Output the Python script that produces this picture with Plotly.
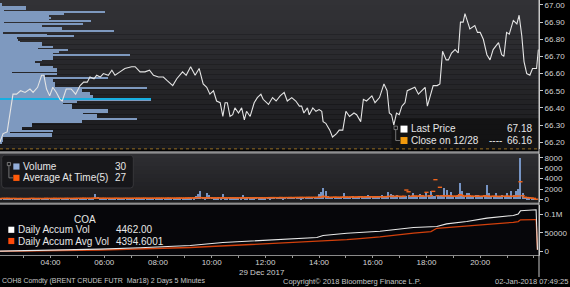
import plotly.graph_objects as go
import pandas as pd

DAY = "2017-12-29 "

# ---------------- data ----------------
price_time = [
    "02:07", "02:14", "02:23", "02:29", "02:36", "02:44", "02:53", "03:03", "03:14", "03:21",
    "03:31", "03:40", "03:45", "03:51", "03:58", "04:05", "04:13", "04:21", "04:26", "04:35",
    "04:46", "04:56", "05:06", "05:14", "05:22", "05:28", "05:37", "05:43", "05:51", "05:58",
    "06:09", "06:17", "06:24", "06:35", "06:46", "07:01", "07:09", "07:20", "07:31", "07:41",
    "07:50", "08:01", "08:12", "08:20", "08:33", "08:42", "08:55", "09:03", "09:13", "09:23",
    "09:32", "09:41", "09:49", "09:56", "10:04", "10:11", "10:19", "10:25", "10:30", "10:35",
    "10:41", "10:47", "10:52", "11:00", "11:07", "11:13", "11:18", "11:26", "11:35", "11:42",
    "11:50", "11:55", "12:07", "12:16", "12:24", "12:33", "12:42", "12:49", "12:59", "13:08",
    "13:16", "13:21", "13:26", "13:34", "13:38", "13:46", "13:53", "14:00", "14:06", "14:09",
    "14:15", "14:24", "14:30", "14:39", "14:45", "14:53", "15:00", "15:08", "15:18", "15:24",
    "15:33", "15:39", "15:46", "15:58", "16:05", "16:15", "16:25", "16:32", "16:37", "16:42",
    "16:47", "16:53", "16:59", "17:05", "17:12", "17:17", "17:27", "17:34", "17:42", "17:49",
    "17:57", "18:02", "18:08", "18:15", "18:24", "18:30", "18:36", "18:44", "18:49", "18:56",
    "19:04", "19:11", "19:16", "19:22", "19:26", "19:31", "19:37", "19:48", "19:54", "20:00",
    "20:07", "20:15", "20:22", "20:29", "20:41", "20:48", "20:53", "20:59", "21:05", "21:14",
    "21:22", "21:27", "21:33", "21:38", "21:44", "21:51", "21:57", "22:06", "22:10",
]
price = [
    66.20, 66.25, 66.26, 66.35, 66.48, 66.48, 66.50, 66.49, 66.51, 66.49,
    66.52, 66.59, 66.59, 66.51, 66.47, 66.52, 66.49, 66.45, 66.44, 66.51,
    66.51, 66.48, 66.53, 66.55, 66.55, 66.58, 66.57, 66.59, 66.58, 66.60,
    66.59, 66.62, 66.59, 66.61, 66.63, 66.64, 66.64, 66.61, 66.61, 66.62,
    66.59, 66.58, 66.58, 66.56, 66.53, 66.57, 66.61, 66.59, 66.64, 66.59,
    66.63, 66.54, 66.52, 66.48, 66.50, 66.44, 66.43, 66.35, 66.43, 66.43,
    66.35, 66.36, 66.40, 66.37, 66.40, 66.33, 66.38, 66.35, 66.43, 66.46,
    66.48, 66.45, 66.42, 66.46, 66.44, 66.47, 66.49, 66.44, 66.46, 66.44,
    66.41, 66.41, 66.37, 66.40, 66.36, 66.40, 66.38, 66.39, 66.38, 66.32,
    66.31, 66.27, 66.23, 66.25, 66.27, 66.27, 66.38, 66.35, 66.37, 66.36,
    66.32, 66.45, 66.44, 66.47, 66.43, 66.46, 66.54, 66.50, 66.37, 66.36,
    66.30, 66.37, 66.36, 66.41, 66.43, 66.50, 66.51, 66.52, 66.48, 66.50,
    66.52, 66.41, 66.47, 66.53, 66.53, 66.54, 66.73, 66.68, 66.68, 66.72,
    66.74, 66.72, 66.90, 66.90, 66.95, 66.91, 66.86, 66.88, 66.84, 66.84,
    66.80, 66.71, 66.68, 66.74, 66.78, 66.71, 66.70, 66.84, 66.83, 66.91,
    66.89, 66.94, 66.82, 66.67, 66.60, 66.59, 66.63, 66.63, 66.74,
]
last_price = "67.18"
prev_close = 66.16

profile_level = [
    67.01, 67.00, 66.99, 66.98, 66.97, 66.96, 66.95, 66.94, 66.93, 66.92,
    66.91, 66.90, 66.89, 66.88, 66.87, 66.86, 66.85, 66.84, 66.83, 66.82,
    66.81, 66.80, 66.79, 66.78, 66.77, 66.76, 66.75, 66.74, 66.73, 66.72,
    66.71, 66.70, 66.69, 66.68, 66.67, 66.66, 66.65, 66.64, 66.63, 66.62,
    66.61, 66.60, 66.59, 66.58, 66.57, 66.56, 66.55, 66.54, 66.53, 66.52,
    66.51, 66.50, 66.49, 66.48, 66.47, 66.46, 66.45, 66.44, 66.43, 66.42,
    66.41, 66.40, 66.39, 66.38, 66.37, 66.36, 66.35, 66.34, 66.33, 66.32,
    66.31, 66.30, 66.29, 66.28, 66.27, 66.26, 66.25, 66.24, 66.23, 66.22,
    66.21, 66.20,
]
profile_volume = [
    20, 20, 260, 260, 40, 1050, 640, 490, 510, 490,
    910, 40, 830, 420, 620, 620, 1140, 30, 470, 740,
    170, 180, 200, 420, 420, 530, 380, 680, 590, 530,
    1300, 530, 530, 420, 350, 400, 400, 530, 570, 570,
    120, 570, 450, 1080, 530, 530, 550, 550, 550, 1470,
    820, 820, 900, 900, 930, 930, 1510, 770, 630, 720,
    720, 720, 1080, 1080, 830, 970, 970, 1370, 820, 820,
    320, 320, 220, 220, 530, 100, 520, 520, 30, 30,
    30, 20,
]
poc_level = 66.45
poc_volume = 1510

bar_time = pd.date_range(DAY + "02:05", DAY + "22:05", freq="5min")
volume = [
    120, 180, 260, 230, 300, 210, 150, 220, 170, 140, 190, 160,
    170, 130, 200, 250, 150, 180, 220, 120, 170, 260, 200, 150,
    210, 280, 170, 230, 160, 200, 250, 180, 150, 210, 190, 260,
    180, 230, 290, 210, 200, 310, 180, 1000, 560, 240, 200, 250,
    210, 250, 180, 230, 280, 200, 250, 220, 190, 260, 210, 240,
    200, 230, 270, 210, 250, 290, 230, 200, 260, 210, 250, 280,
    240, 280, 210, 250, 320, 230, 270, 210, 250, 290, 230, 300,
    280, 350, 300, 320, 650, 970, 1600, 450, 380, 1300, 900, 420,
    350, 300, 380, 320, 1150, 340, 310, 360, 300, 330, 290, 320,
    320, 900, 300, 380, 330, 290, 350, 400, 320, 360, 300, 340,
    450, 380, 520, 420, 480, 400, 550, 380, 450, 500, 420, 480,
    420, 500, 450, 380, 460, 520, 480, 440, 450, 520, 480, 970,
    1400, 2260, 1600, 600, 480, 500, 560, 480, 430, 520, 1300, 450,
    500, 450, 600, 550, 480, 700, 620, 550, 500, 770, 600, 650,
    600, 700, 650, 800, 600, 750, 1420, 970, 900, 650, 800, 700,
    700, 750, 650, 800, 700, 1160, 750, 700, 1030, 800, 700, 1300,
    800, 1600, 700, 650, 800, 700, 750, 2130, 1800, 700, 1400, 750,
    700, 900, 3230, 1600, 750, 1300, 1300, 650, 700, 900, 850, 700,
    700, 800, 2700, 1160, 650, 750, 1300, 650, 700, 800, 600, 1300,
    700, 1600, 800, 1600, 1940, 7930, 1300, 400, 350, 300, 250, 200,
    30,
]
avg_at_time = [
    150, 170, 190, 180, 200, 160, 170, 180, 150, 160, 170, 150,
    160, 150, 180, 190, 170, 160, 180, 150, 170, 190, 180, 160,
    180, 200, 170, 190, 180, 170, 200, 190, 170, 180, 190, 200,
    190, 210, 220, 200, 210, 200, 220, 260, 240, 200, 210, 220,
    200, 210, 190, 200, 220, 210, 200, 190, 210, 220, 200, 210,
    210, 220, 230, 210, 220, 240, 220, 210, 230, 220, 230, 240,
    230, 240, 220, 240, 250, 230, 240, 230, 250, 260, 240, 250,
    260, 280, 270, 280, 320, 360, 340, 290, 280, 330, 300, 290,
    290, 280, 300, 290, 320, 300, 290, 300, 300, 290, 300, 290,
    300, 310, 290, 320, 300, 290, 310, 320, 300, 310, 290, 300,
    320, 340, 330, 350, 320, 340, 360, 330, 350, 340, 360, 350,
    350, 370, 360, 380, 370, 360, 390, 370, 380, 370, 390, 400,
    450, 600, 500, 400, 380, 400, 430, 410, 390, 420, 440, 460,
    430, 450, 470, 440, 460, 500, 480, 470, 490, 520, 500, 480,
    480, 500, 520, 490, 510, 530, 550, 600, 550, 580, 620, 560,
    560, 600, 1800, 1470, 600, 620, 650, 600, 650, 680, 620, 1360,
    650, 700, 1550, 3800, 700, 2330, 700, 650, 680, 720, 650, 600,
    620, 650, 900, 750, 600, 650, 700, 620, 600, 580, 620, 600,
    580, 700, 650, 560, 580, 620, 600, 560, 580, 600, 590, 620,
    600, 580, 600, 620, 650, 3400, 700, 400, 350, 300, 250, 200,
    27,
]
last_volume = "30"
last_avg = "27"

accum_time = ["02:07", "03:59", "05:51", "07:20", "09:12", "10:25", "11:41", "12:33",
              "12:55", "13:55", "14:09", "15:02", "16:16", "17:31", "18:23", "18:45",
              "19:30", "20:15", "21:14", "21:25", "21:30", "22:02", "22:05", "22:08"]
accum_vol = [1000, 3000, 6500, 10000, 16000, 24000, 29400, 32500,
             35000, 37400, 42800, 48900, 54000, 64200, 66800, 73800,
             80200, 89000, 96300, 100000, 108600, 111200, 111500, 4462]
accum_avg_time = ["02:07", "05:51", "09:12", "10:26", "11:41", "12:33", "12:55",
                  "14:09", "15:02", "15:24", "16:16", "17:31", "18:10", "18:23",
                  "19:30", "20:15", "21:14", "21:25", "21:30", "22:02", "22:05", "22:08"]
accum_avg = [500, 4000, 10700, 15000, 19500, 21000, 23000,
             27500, 31500, 33700, 39000, 49000, 53000, 62000,
             68500, 71000, 78000, 80000, 84500, 85000, 85000, 4395]

price_ticks = [66.2, 66.3, 66.4, 66.5, 66.6, 66.7, 66.8, 66.9, 67.0]
vol_ticks = [0, 2000, 4000, 6000, 8000]
accum_ticks = [0, 50000, 100000]
accum_ticktext = ["0", "50000", "0.1M"]
hour_ticks = ["03:00", "04:00", "05:00", "06:00", "07:00", "08:00", "09:00", "10:00", "11:00",
              "12:00", "13:00", "14:00", "15:00", "16:00", "17:00", "18:00", "19:00", "20:00",
              "21:00", "22:00"]
hour_labels = ["", "04:00", "", "06:00", "", "08:00", "", "10:00", "", "12:00", "",
               "14:00", "", "16:00", "", "18:00", "", "20:00", "", ""]
x_range = [DAY + "02:07:00", DAY + "22:11:27"]

# ---------------- geometry helpers (pixels -> paper) ----------------
W, H = 570, 287
PW = 539.0


def X(px):
    return px / PW


def Y(py):
    return 1 - py / H


FONT = "Liberation Sans, Arial, sans-serif"
TXT = "#e6e6e6"
TICK = "#d4d4d4"

fig = go.Figure()

# volume profile (base subplot, drawn underneath)
fig.add_trace(go.Bar(x=profile_volume, y=profile_level, orientation="h", width=0.0082,
                     marker=dict(color="#7e99bf", line=dict(width=0)),
                     xaxis="x", yaxis="y", hoverinfo="skip"))
fig.add_trace(go.Bar(x=[poc_volume], y=[poc_level], orientation="h", width=0.0135,
                     marker=dict(color="#17aee0", line=dict(width=0)),
                     xaxis="x", yaxis="y", hoverinfo="skip"))
# price (overlay time axis, drawn on top)
fig.add_trace(go.Scatter(x=[DAY + t for t in price_time], y=price, mode="lines",
                         line=dict(color="#e4e4e4", width=1.1), xaxis="x4", yaxis="y"))
# volume
fig.add_trace(go.Bar(x=bar_time, y=volume, width=150000,
                     marker=dict(color="#7694c4", line=dict(width=0)),
                     xaxis="x2", yaxis="y2"))
fig.add_trace(go.Scatter(x=bar_time, y=avg_at_time, mode="markers",
                         marker=dict(symbol="line-ew", size=3,
                                     line=dict(color="#f0641c", width=1.4)),
                         xaxis="x2", yaxis="y2"))
# accumulated
fig.add_trace(go.Scatter(x=[DAY + t for t in accum_avg_time], y=accum_avg, mode="lines",
                         line=dict(color="#d2400c", width=1.3), xaxis="x3", yaxis="y3"))
fig.add_trace(go.Scatter(x=[DAY + t for t in accum_time], y=accum_vol, mode="lines",
                         line=dict(color="#e8e8e8", width=1.1), xaxis="x3", yaxis="y3"))

shapes = []


def band(y0, y1, c0, c1, n):
    for i in range(n):
        t = i / (n - 1)
        c = tuple(int(round(a + (b - a) * t)) for a, b in zip(c0, c1))
        ya = y0 + (y1 - y0) * i / n
        yb = y0 + (y1 - y0) * (i + 1) / n
        shapes.append(dict(type="rect", xref="paper", yref="paper", x0=0, x1=1,
                           y0=Y(yb), y1=Y(ya), fillcolor="rgb(%d,%d,%d)" % c,
                           line=dict(width=0), layer="below"))


band(0, 150.5, (50, 50, 54), (27, 27, 30), 30)
band(155, 203.5, (46, 46, 50), (29, 29, 32), 12)
shapes.append(dict(type="rect", xref="paper", yref="paper", x0=0, x1=1,
                   y0=Y(256.7), y1=Y(206.3), fillcolor="#06060a",
                   line=dict(width=0), layer="below"))
# separators
for a, b in [(152.3, 154.8), (203.8, 206.3)]:
    shapes.append(dict(type="rect", xref="paper", yref="paper", x0=0, x1=1,
                       y0=Y(b), y1=Y(a), fillcolor="#8e8e90", line=dict(width=0)))
# previous close dotted line
shapes.append(dict(type="line", xref="x domain", yref="y", x0=0, x1=1,
                   y0=prev_close, y1=prev_close,
                   line=dict(color="#c08a20", width=1, dash="dot")))
# main legend box
shapes.append(dict(type="rect", xref="paper", yref="paper", x0=X(391.5), x1=1,
                   y0=Y(150.5), y1=Y(119), fillcolor="rgba(18,18,20,0.92)",
                   line=dict(width=0), layer="below"))
shapes.append(dict(type="rect", xref="paper", yref="paper", x0=X(400.5), x1=X(407.5),
                   y0=Y(133.5), y1=Y(126.5), fillcolor="#ffffff", line=dict(width=0)))
shapes.append(dict(type="rect", xref="paper", yref="paper", x0=X(400.5), x1=X(407.5),
                   y0=Y(145), y1=Y(138), fillcolor="#f29a0c", line=dict(width=0)))
shapes.append(dict(type="rect", xref="paper", yref="paper", x0=X(394), x1=X(397.5),
                   y0=Y(130.5), y1=Y(127), fillcolor="rgba(0,0,0,0)",
                   line=dict(color="#8a8a8a", width=0.8)))
shapes.append(dict(type="path", xref="paper", yref="paper",
                   path="M %f,%f L %f,%f L %f,%f" % (X(395.7), Y(130.5), X(395.7), Y(141.5),
                                                     X(400), Y(141.5)),
                   line=dict(color="#8a8a8a", width=0.8)))
# volume legend box (rounded)
x0b, x1b, y0b, y1b, r = 1.7, 133.3, 156.3, 189.3, 3
shapes.append(dict(type="path", xref="paper", yref="paper",
                   path="M %f,%f L %f,%f Q %f,%f %f,%f L %f,%f Q %f,%f %f,%f L %f,%f Q %f,%f %f,%f L %f,%f Q %f,%f %f,%f Z" % (
                       X(x0b + r), Y(y0b), X(x1b - r), Y(y0b), X(x1b), Y(y0b), X(x1b), Y(y0b + r),
                       X(x1b), Y(y1b - r), X(x1b), Y(y1b), X(x1b - r), Y(y1b),
                       X(x0b + r), Y(y1b), X(x0b), Y(y1b), X(x0b), Y(y1b - r),
                       X(x0b), Y(y0b + r), X(x0b), Y(y0b), X(x0b + r), Y(y0b)),
                   fillcolor="rgba(22,22,25,0.95)", line=dict(color="#3c3c40", width=0.8)))
shapes.append(dict(type="rect", xref="paper", yref="paper", x0=X(13.3), x1=X(19.5),
                   y0=Y(170.8), y1=Y(164.6), fillcolor="#93aedb", line=dict(width=0)))
shapes.append(dict(type="rect", xref="paper", yref="paper", x0=X(13.3), x1=X(19.5),
                   y0=Y(182.2), y1=Y(176), fillcolor="#ff5a0a", line=dict(width=0)))
shapes.append(dict(type="rect", xref="paper", yref="paper", x0=X(7.3), x1=X(10.5),
                   y0=Y(166.8), y1=Y(163.6), fillcolor="rgba(0,0,0,0)",
                   line=dict(color="#8a8a8a", width=0.8)))
shapes.append(dict(type="path", xref="paper", yref="paper",
                   path="M %f,%f L %f,%f L %f,%f" % (X(8.9), Y(166.8), X(8.9), Y(179.1),
                                                     X(13), Y(179.1)),
                   line=dict(color="#8a8a8a", width=0.8)))
# accum legend squares
shapes.append(dict(type="rect", xref="paper", yref="paper", x0=X(8.3), x1=X(14.3),
                   y0=Y(234.5), y1=Y(228.3), fillcolor="#ffffff", line=dict(width=0)))
shapes.append(dict(type="rect", xref="paper", yref="paper", x0=X(8.3), x1=X(14.3),
                   y0=Y(245.8), y1=Y(239.6), fillcolor="#ff4a0a", line=dict(width=0)))
# right axis line extended through the time axis
shapes.append(dict(type="line", xref="paper", yref="paper", x0=1, x1=1,
                   y0=Y(279), y1=1, line=dict(color="#c8c8c8", width=1)))

ann = []


def txt(px, py, s, anchor="left", size=10, color=TXT):
    ann.append(dict(x=X(px), y=Y(py), xref="paper", yref="paper", text=s, showarrow=False,
                    xanchor=anchor, yanchor="middle", font=dict(family=FONT, size=size, color=color),
                    borderpad=0))


txt(409.5, 129.8, "Last Price")
txt(532.5, 129.8, last_price, "right")
txt(409.5, 141.3, "Close on 12/28")
txt(495, 141.3, "----", "center")
txt(532.5, 141.3, "%.2f" % prev_close, "right")
txt(21.5, 167.8, "Volume")
txt(128, 167.8, last_volume, "right")
txt(21.5, 179.2, "Average At Time(5)")
txt(128, 179.2, last_avg, "right")
txt(85, 220.8, "COA", "center")
txt(16.5, 231.4, "Daily Accum Vol")
txt(114.5, 231.4, "4462.00")
txt(16.5, 242.8, "Daily Accum Avg Vol")
txt(114.5, 242.8, "4394.6001")
txt(262, 274.5, "29 Dec 2017", "center", 8, "#d0d0d0")
txt(1, 283.3, "COH8 Comdty (BRENT CRUDE FUTR&nbsp;&nbsp;Mar18) 2 Days 5 Minutes", "left", 7, "#c8c8c8")
txt(282, 283.3, "Copyright© 2018 Bloomberg Finance L.P.", "left", 7.5, "#c8c8c8")
txt(569, 283.3, "02-Jan-2018 07:49:25", "right", 7.5, "#c8c8c8")

yax_common = dict(side="right", showgrid=False, zeroline=False, showline=True,
                  linecolor="#c8c8c8", linewidth=1, ticks="outside", ticklen=3,
                  tickcolor="#c8c8c8", tickwidth=1,
                  tickfont=dict(family=FONT, size=8, color=TICK), fixedrange=True)
xax_common = dict(type="date", range=x_range, showgrid=False, zeroline=False,
                  showticklabels=False, ticks="", showline=False)

fig.update_layout(
    width=W, height=H,
    margin=dict(l=0, r=W - PW, t=0, b=0),
    paper_bgcolor="#000000", plot_bgcolor="rgba(0,0,0,0)",
    showlegend=False,
    xaxis=dict(anchor="y", domain=[0, 1], range=[0, 5390], visible=False),
    xaxis2=dict(xax_common, anchor="y2", domain=[0, 1]),
    xaxis3=dict(xax_common, anchor="y3", domain=[0, 1], showticklabels=True,
                tickmode="array", tickvals=[DAY + h for h in hour_ticks], ticktext=hour_labels,
                ticks="outside", ticklen=2, tickcolor="#9a9a9a", showline=True,
                linecolor="#8a8a8a", linewidth=1, ticklabelstandoff=-3,
                tickfont=dict(family=FONT, size=8, color=TICK)),
    xaxis4=dict(xax_common, overlaying="x", anchor="y", visible=False),
    yaxis=dict(yax_common, anchor="x", domain=[Y(150.5), 1], range=[66.1576, 67.029],
               tickvals=price_ticks, ticktext=["%.2f" % v for v in price_ticks]),
    yaxis2=dict(yax_common, anchor="x2", domain=[Y(203.5), Y(155)], range=[-523, 8775],
                tickvals=vol_ticks, ticktext=[str(v) for v in vol_ticks]),
    yaxis3=dict(yax_common, anchor="x3", domain=[Y(256.7), Y(206.3)], range=[-9040, 124470],
                tickvals=accum_ticks, ticktext=accum_ticktext),
    shapes=shapes,
    annotations=ann,
    bargap=0,
)

fig.write_html("out.html")
